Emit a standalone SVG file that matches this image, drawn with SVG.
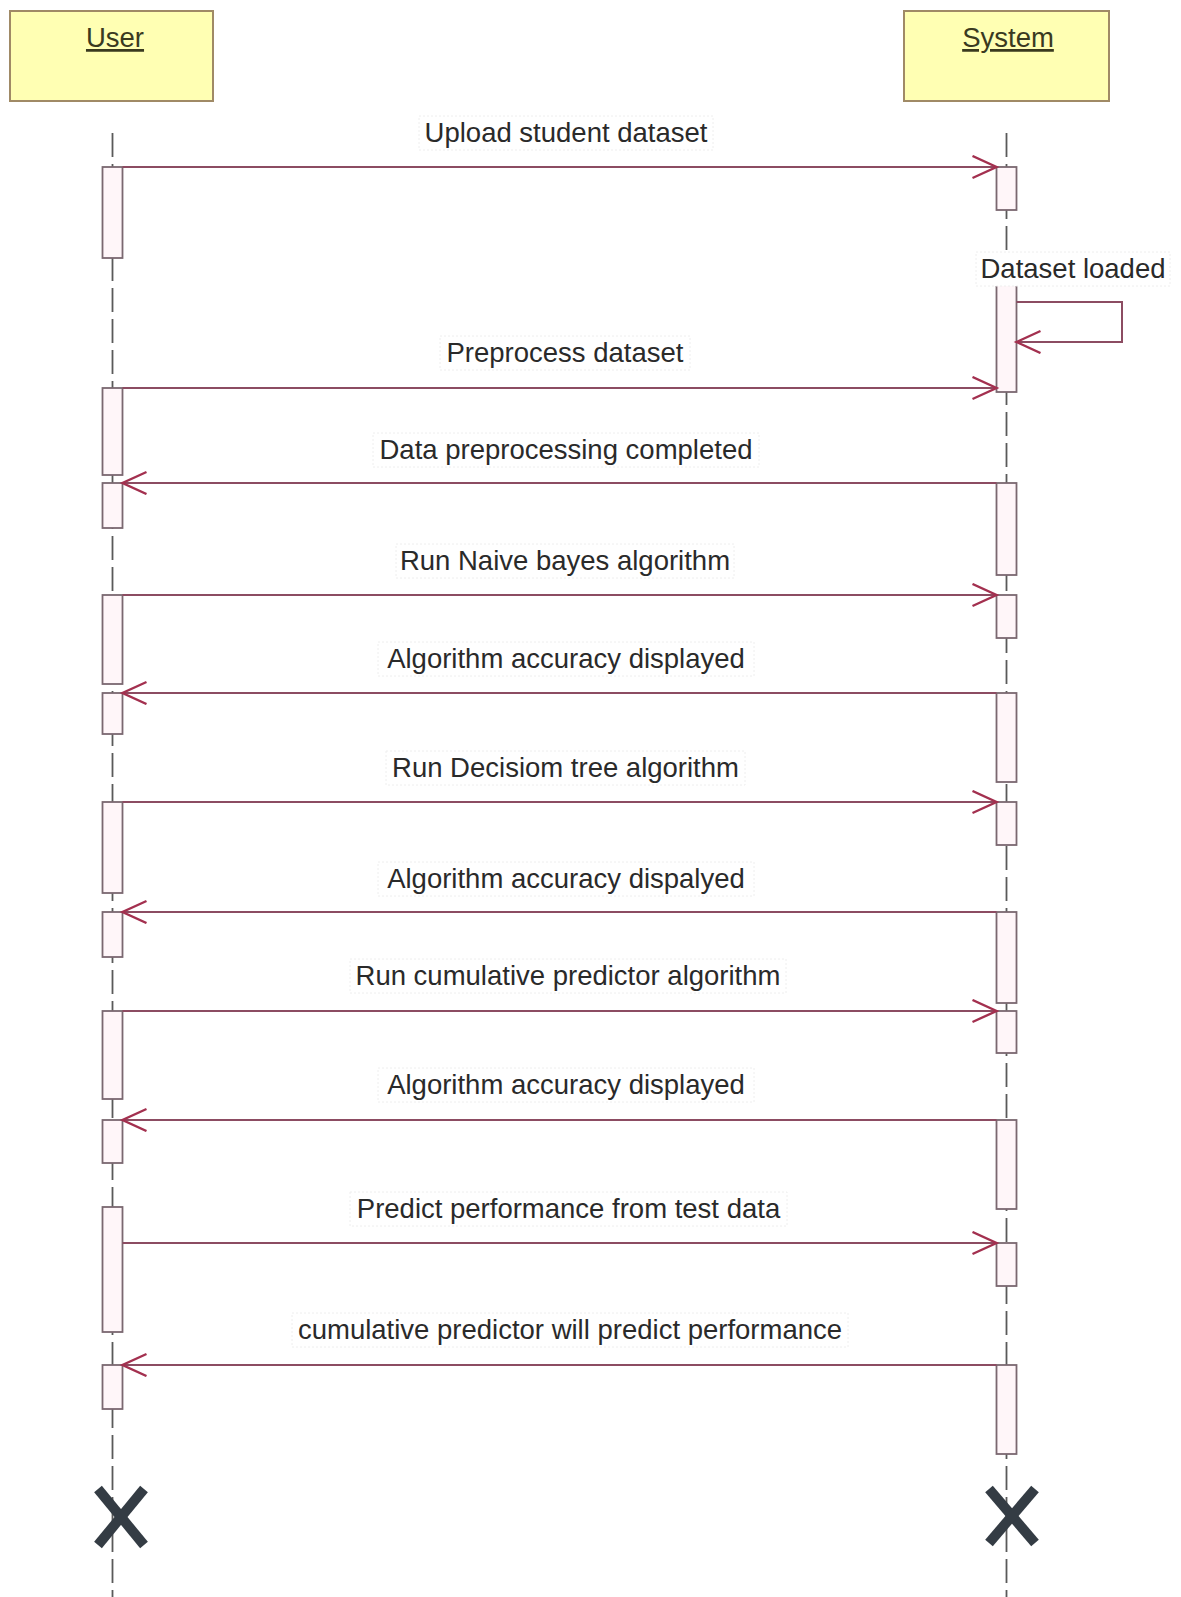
<svg xmlns="http://www.w3.org/2000/svg" width="1181" height="1597" viewBox="0 0 1181 1597">
<defs>
<style>
.part{fill:#ffffb3;stroke:#a08a66;stroke-width:2}
.ptxt{font-family:"Liberation Sans",Arial,sans-serif;font-size:27.5px;fill:#3a3a1f;text-anchor:middle;text-decoration:underline}
.life{stroke:#5a5a5a;stroke-width:1.8;stroke-dasharray:24 7;fill:none}
.act{fill:#fff6f9;stroke:#7a6870;stroke-width:1.8}
.msg{stroke:#8c4c62;stroke-width:2;fill:none}
.lbl{font-family:"Liberation Sans",Arial,sans-serif;font-size:27.5px;fill:#2a2a2a;text-anchor:middle}
.lbg{fill:#ffffff;stroke:#eeeeee;stroke-width:1;stroke-dasharray:2 2}
.xm{stroke:#343c44;stroke-width:10;fill:none}
</style>
<marker id="ah" markerUnits="userSpaceOnUse" markerWidth="30" markerHeight="30" refX="25" refY="12" orient="auto">
<path d="M1,1 L25,12 L1,23" fill="none" stroke="#a3304f" stroke-width="2.4"/>
</marker>
</defs>
<rect width="1181" height="1597" fill="#ffffff"/>

<g id="lifelines">
<line class="life" x1="112.5" y1="133" x2="112.5" y2="1597"/>
<line class="life" x1="1006.5" y1="133" x2="1006.5" y2="1597"/>
</g>

<g id="user">
<rect class="part" x="10" y="11" width="203" height="90"/>
<text class="ptxt" x="115" y="47">User</text>
</g>
<g id="system">
<rect class="part" x="904" y="11" width="205" height="90"/>
<text class="ptxt" x="1008" y="47">System</text>
</g>

<g id="user-activations">
<rect class="act" x="102.5" y="167" width="20" height="91"/>
<rect class="act" x="102.5" y="388" width="20" height="87"/>
<rect class="act" x="102.5" y="483" width="20" height="45"/>
<rect class="act" x="102.5" y="595" width="20" height="89"/>
<rect class="act" x="102.5" y="693" width="20" height="41"/>
<rect class="act" x="102.5" y="802" width="20" height="91"/>
<rect class="act" x="102.5" y="912" width="20" height="45"/>
<rect class="act" x="102.5" y="1011" width="20" height="88"/>
<rect class="act" x="102.5" y="1120" width="20" height="43"/>
<rect class="act" x="102.5" y="1207" width="20" height="125"/>
<rect class="act" x="102.5" y="1365" width="20" height="44"/>
</g>

<g id="system-activations">
<rect class="act" x="996.5" y="167" width="20" height="43"/>
<rect class="act" x="996.5" y="283" width="20" height="109"/>
<rect class="act" x="996.5" y="483" width="20" height="92"/>
<rect class="act" x="996.5" y="595" width="20" height="43"/>
<rect class="act" x="996.5" y="693" width="20" height="89"/>
<rect class="act" x="996.5" y="802" width="20" height="43"/>
<rect class="act" x="996.5" y="912" width="20" height="91"/>
<rect class="act" x="996.5" y="1011" width="20" height="42"/>
<rect class="act" x="996.5" y="1120" width="20" height="89"/>
<rect class="act" x="996.5" y="1243" width="20" height="43"/>
<rect class="act" x="996.5" y="1365" width="20" height="89"/>
</g>

<g id="connectors">
<line class="msg" x1="122.5" y1="167" x2="996.5" y2="167" marker-end="url(#ah)"/>
<polyline class="msg" points="1016.5,302 1122,302 1122,342 1016.5,342" marker-end="url(#ah)"/>
<line class="msg" x1="122.5" y1="388" x2="996.5" y2="388" marker-end="url(#ah)"/>
<line class="msg" x1="996.5" y1="483" x2="122.5" y2="483" marker-end="url(#ah)"/>
<line class="msg" x1="122.5" y1="595" x2="996.5" y2="595" marker-end="url(#ah)"/>
<line class="msg" x1="996.5" y1="693" x2="122.5" y2="693" marker-end="url(#ah)"/>
<line class="msg" x1="122.5" y1="802" x2="996.5" y2="802" marker-end="url(#ah)"/>
<line class="msg" x1="996.5" y1="912" x2="122.5" y2="912" marker-end="url(#ah)"/>
<line class="msg" x1="122.5" y1="1011" x2="996.5" y2="1011" marker-end="url(#ah)"/>
<line class="msg" x1="996.5" y1="1120" x2="122.5" y2="1120" marker-end="url(#ah)"/>
<line class="msg" x1="122.5" y1="1243" x2="996.5" y2="1243" marker-end="url(#ah)"/>
<line class="msg" x1="996.5" y1="1365" x2="122.5" y2="1365" marker-end="url(#ah)"/>
</g>

<g id="labels">
<rect class="lbg" x="419" y="116" width="294" height="34"/>
<text class="lbl" x="566" y="142">Upload student dataset</text>
<rect class="lbg" x="976" y="252" width="194" height="34"/>
<text class="lbl" x="1073" y="278">Dataset loaded</text>
<rect class="lbg" x="440" y="336" width="250" height="34"/>
<text class="lbl" x="565" y="362">Preprocess dataset</text>
<rect class="lbg" x="373" y="433" width="386" height="34"/>
<text class="lbl" x="566" y="459">Data preprocessing completed</text>
<rect class="lbg" x="396" y="544" width="338" height="34"/>
<text class="lbl" x="565" y="570">Run Naive bayes algorithm</text>
<rect class="lbg" x="378" y="642" width="376" height="34"/>
<text class="lbl" x="566" y="668">Algorithm accuracy displayed</text>
<rect class="lbg" x="386" y="751" width="359" height="34"/>
<text class="lbl" x="565.5" y="777">Run Decisiom tree algorithm</text>
<rect class="lbg" x="378" y="862" width="376" height="34"/>
<text class="lbl" x="566" y="888">Algorithm accuracy dispalyed</text>
<rect class="lbg" x="350" y="959" width="436" height="34"/>
<text class="lbl" x="568" y="985">Run cumulative predictor algorithm</text>
<rect class="lbg" x="378" y="1068" width="376" height="34"/>
<text class="lbl" x="566" y="1094">Algorithm accuracy displayed</text>
<rect class="lbg" x="350" y="1192" width="437" height="34"/>
<text class="lbl" x="568.5" y="1218">Predict performance from test data</text>
<rect class="lbg" x="292" y="1313" width="556" height="34"/>
<text class="lbl" x="570" y="1339">cumulative predictor will predict performance</text>
</g>

<g id="user-destroy">
<line class="xm" x1="98" y1="1489" x2="144" y2="1545"/>
<line class="xm" x1="144" y1="1489" x2="98" y2="1545"/>
</g>
<g id="system-destroy">
<line class="xm" x1="989" y1="1489" x2="1035" y2="1543"/>
<line class="xm" x1="1035" y1="1489" x2="989" y2="1543"/>
</g>
</svg>
